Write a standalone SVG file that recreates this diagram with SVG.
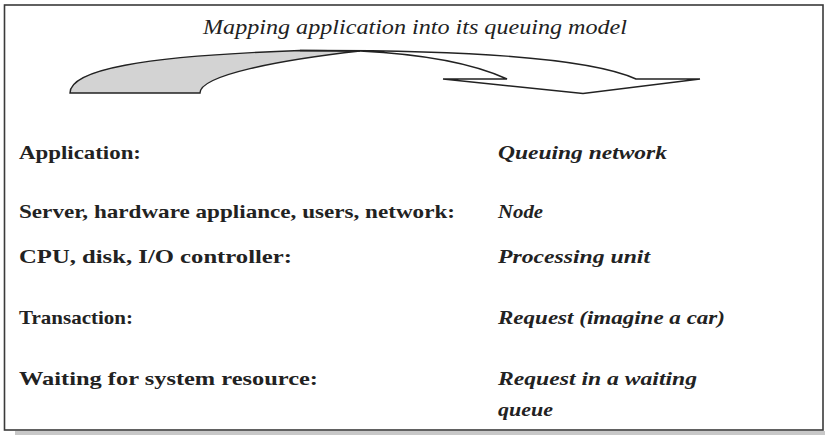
<svg xmlns="http://www.w3.org/2000/svg" width="825" height="435" viewBox="0 0 825 435">
  <style>
    .frame { fill: #ffffff; stroke: #3a3a3a; stroke-width: 1.6; }
    .shadow { fill: #c8c8c8; }
    text { font-family: "Liberation Serif", "DejaVu Serif", "Noto Serif", "Times New Roman", serif; fill: #222; }
    .title { font-style: italic; font-size: 21px; }
    .lbl { font-weight: bold; font-size: 19px; }
    .val { font-weight: bold; font-style: italic; font-size: 19px; }
    .back { fill: #d3d3d3; stroke: #222; stroke-width: 1.4; stroke-linejoin: miter; }
    .front { fill: #ffffff; stroke: #222; stroke-width: 1.4; stroke-linejoin: miter; }
  </style>
  <rect class="shadow" x="15" y="431" width="810" height="4"/>
  <rect class="frame" x="4.5" y="5" width="818.5" height="425"/>

  <g id="title">
    <text class="title" x="203" y="34" textLength="424" lengthAdjust="spacingAndGlyphs">Mapping application into its queuing model</text>
  </g>

  <g id="connectors">
    <path class="back" d="M70,93 C70,70 140,56 300,50.5 L360,51 C280,60 200,75 200,93 Z"/>
    <path class="front" d="M300,50.5 C450,50 585,56 636,79 L700,79 L583,93.5 L443,79 L507,79 C470,62 420,54 360,51 Z"/>
  </g>

  <g id="row-application">
    <text class="lbl" x="19" y="159" textLength="122" lengthAdjust="spacingAndGlyphs">Application:</text>
    <text class="val" x="498" y="159" textLength="169" lengthAdjust="spacingAndGlyphs">Queuing network</text>
  </g>
  <g id="row-node">
    <text class="lbl" x="19" y="218" textLength="436" lengthAdjust="spacingAndGlyphs">Server, hardware appliance, users, network:</text>
    <text class="val" x="498" y="218" textLength="45" lengthAdjust="spacingAndGlyphs">Node</text>
  </g>
  <g id="row-processing">
    <text class="lbl" x="19" y="263" textLength="273" lengthAdjust="spacingAndGlyphs">CPU, disk, I/O controller:</text>
    <text class="val" x="498" y="263" textLength="152" lengthAdjust="spacingAndGlyphs">Processing unit</text>
  </g>
  <g id="row-request">
    <text class="lbl" x="19" y="324" textLength="114" lengthAdjust="spacingAndGlyphs">Transaction:</text>
    <text class="val" x="498" y="324" textLength="227" lengthAdjust="spacingAndGlyphs">Request (imagine a car)</text>
  </g>
  <g id="row-waiting">
    <text class="lbl" x="19" y="385" textLength="299" lengthAdjust="spacingAndGlyphs">Waiting for system resource:</text>
    <text class="val" x="498" y="385" textLength="199" lengthAdjust="spacingAndGlyphs">Request in a waiting</text>
    <text class="val" x="498" y="416" textLength="55" lengthAdjust="spacingAndGlyphs">queue</text>
  </g>
</svg>
